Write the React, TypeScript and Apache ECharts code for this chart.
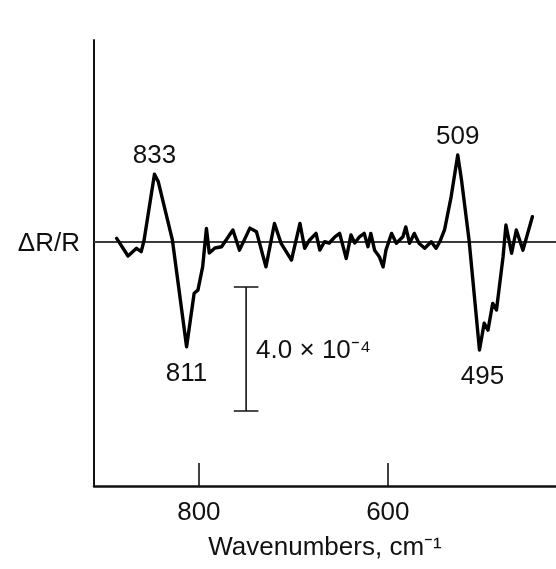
import React, { useEffect, useRef } from 'react';
import * as echarts from 'echarts';

// Wavenumbers (cm^-1) of the traced points
const wavenumbers = [
  887, 875, 866, 861, 858, 847, 843, 828, 813, 805, 801, 796, 792, 789, 783, 776,
  764, 757, 746, 739, 729, 720, 713, 702, 693, 688, 683, 676, 672, 667, 662, 656,
  651, 644, 639, 635, 630, 625, 621, 618, 614, 609, 605, 602, 596, 591, 584, 581,
  577, 572, 567, 561, 554, 549, 545, 540, 533, 526, 522, 514, 503, 498, 494, 489,
  485, 478, 475, 469, 464, 457, 447,
];
// ΔR/R in units of 1e-4
const deltaR = [
  0.12, -0.45, -0.2, -0.31, 0.06, 2.19, 1.95, 0.06, -3.38, -1.65, -1.55, -0.8, 0.44, -0.35, -0.19, -0.15,
  0.39, -0.26, 0.45, 0.33, -0.8, 0.6, -0.04, -0.58, 0.6, -0.2, 0.06, 0.28, -0.26, 0.01, -0.03, 0.17,
  0.28, -0.53, 0.23, -0.03, 0.17, 0.28, -0.15, 0.28, -0.26, -0.47, -0.8, -0.26, 0.28, -0.04, 0.17, 0.49,
  -0.04, 0.28, -0.04, -0.2, 0.01, -0.2, 0.01, 0.39, 1.46, 2.81, 2.0, 0.06, -3.48, -2.62, -2.84, -1.98,
  -2.19, -0.47, 0.55, -0.36, 0.39, -0.26, 0.82,
];
const peakLabels = ['833', '811', '509', '495'];
const peakKinds = ['max', 'min', 'max', 'min'];
const peakRanges = [[820, 870], [790, 830], [500, 545], [480, 520]];
const xTickValues = [800, 600];
const xMin = 422;
const xMax = 911;
const yMin = -7.87;
const yMax = 6.52;
// scale bar: 4.0 × 10^-4
const scaleBarX = 750;
const scaleBarTop = -1.45;
const scaleBarLength = 4.0;
const scaleBarCap = 13;

const FONT = "'Liberation Sans', Arial, Helvetica, sans-serif";
const FS = 26;

function findExtreme(range: number[], kind: string) {
  let best = -1;
  for (let i = 0; i < wavenumbers.length; i++) {
    const w = wavenumbers[i];
    if (w < range[0] || w > range[1]) continue;
    if (best < 0) best = i;
    else if (kind === 'max' ? deltaR[i] > deltaR[best] : deltaR[i] < deltaR[best]) best = i;
  }
  return best;
}

export default function App() {
  const ref = useRef<HTMLDivElement>(null);
  useEffect(() => {
    if (!ref.current) return;
    const chart = echarts.init(ref.current, null, { renderer: 'svg' });
    const data = wavenumbers.map((w, i) => [w, deltaR[i]]);
    const peaks = peakLabels.map((lab, k) => {
      const idx = findExtreme(peakRanges[k], peakKinds[k]);
      const isMax = peakKinds[k] === 'max';
      return {
        coord: [wavenumbers[idx], deltaR[idx]],
        value: lab,
        label: {
          show: true,
          position: isMax ? 'top' : 'bottom',
          distance: isMax ? 7 : 12,
          formatter: lab,
          fontFamily: FONT,
          fontSize: FS,
          color: '#111',
          offset: k === 3 ? [3, 0] : [0, 0],
        },
      };
    });
    const bot = scaleBarTop - scaleBarLength;
    const blackLine = { color: '#111', width: 1.6 };
    chart.setOption({
      animation: false,
      grid: { left: 94, right: 0, top: 40, bottom: 83, containLabel: false },
      xAxis: {
        type: 'value',
        inverse: true,
        min: xMin,
        max: xMax,
        name: 'Wavenumbers, cm⁻¹',
        nameLocation: 'middle',
        nameGap: 47,
        nameTextStyle: { fontFamily: FONT, fontSize: FS, color: '#111' },
        axisLine: { show: true, onZero: false, lineStyle: { color: '#111', width: 2.5 } },
        axisTick: { show: true, inside: true, length: 23, customValues: xTickValues, lineStyle: { color: '#111', width: 1.6 } },
        axisLabel: { show: true, customValues: xTickValues, margin: 12, fontFamily: FONT, fontSize: FS, color: '#111' },
        splitLine: { show: false },
      },
      yAxis: {
        type: 'value',
        min: yMin,
        max: yMax,
        axisLine: { show: true, onZero: false, lineStyle: { color: '#111', width: 2 } },
        axisTick: { show: false },
        axisLabel: { show: true, customValues: [0], formatter: () => 'ΔR/R', margin: 14, fontFamily: FONT, fontSize: FS, color: '#111' },
        splitLine: { show: false },
      },
      series: [
        {
          type: 'line',
          data,
          symbol: 'none',
          lineStyle: { color: '#000', width: 3.4, join: 'round', cap: 'round' },
          z: 3,
          markLine: {
            silent: true,
            symbol: ['none', 'none'],
            label: { show: false },
            lineStyle: { color: '#3a3a3a', width: 1.8, type: 'solid' },
            data: [{ yAxis: 0 }],
            z: 2,
          },
          markPoint: {
            symbol: 'circle',
            symbolSize: 0,
            itemStyle: { color: 'transparent' },
            data: peaks,
          },
        },
        { type: 'line', symbol: 'none', lineStyle: blackLine, data: [[scaleBarX, scaleBarTop], [scaleBarX, bot]] },
        { type: 'line', symbol: 'none', lineStyle: blackLine, data: [[scaleBarX + scaleBarCap, scaleBarTop], [scaleBarX - scaleBarCap, scaleBarTop]] },
        { type: 'line', symbol: 'none', lineStyle: blackLine, data: [[scaleBarX + scaleBarCap, bot], [scaleBarX - scaleBarCap, bot]] },
      ],
    });
    const p = chart.convertToPixel({ gridIndex: 0 }, [scaleBarX, scaleBarTop - scaleBarLength / 2]) as number[];
    chart.setOption({
      graphic: [
        {
          type: 'text',
          x: p[0] + 10,
          y: p[1],
          style: {
            text: '4.0 × 10⁻⁴',
            fontFamily: FONT,
            fontSize: FS,
            fill: '#111',
            verticalAlign: 'middle',
            align: 'left',
          },
        },
      ],
    });
    return () => chart.dispose();
  }, []);
  return <div ref={ref} style={{ position: 'fixed', left: 0, top: 0, width: 556, height: 569 }} />;
}
